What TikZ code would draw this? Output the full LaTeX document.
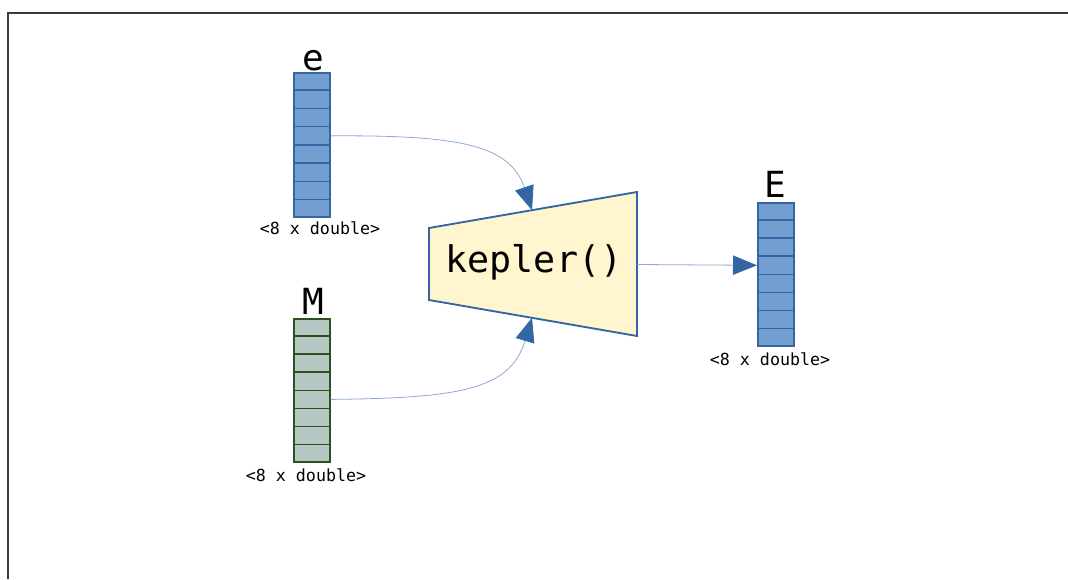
\documentclass[tikz,border=0pt]{standalone}
\usepackage{fontspec}
\setmonofont{DejaVu Sans Mono}
\usetikzlibrary{arrows.meta,calc}

\definecolor{cellblue}{HTML}{729FCF}
\definecolor{edgeblue}{HTML}{3465A4}
\definecolor{cellgreen}{HTML}{B4C9C3}
\definecolor{edgegreen}{HTML}{2E4F1C}
\definecolor{boxfill}{HTML}{FFF5CF}
\definecolor{wireblue}{HTML}{8EAAD2}
\definecolor{framegray}{HTML}{3A3A3A}

\tikzset{
  vecbox/.style={draw, rectangle, inner sep=0pt, anchor=north west,
    minimum width=27pt, line width=1.3pt},
  bluevec/.style={vecbox, fill=cellblue, draw=edgeblue},
  greenvec/.style={vecbox, fill=cellgreen, draw=edgegreen},
  cellline/.style={line width=1.2pt},
  vecname/.style={anchor=base, inner sep=0pt, font=\ttfamily\fontsize{27}{27}\selectfont},
  veccap/.style={anchor=base, inner sep=0pt, font=\ttfamily\fontsize{12.5}{13}\selectfont},
  wire/.style={draw=wireblue, line width=0.6pt,
    -{Triangle[length=18pt,width=14.5pt,color=edgeblue,fill=edgeblue]}},
}

\begin{document}
\begin{tikzpicture}[x=0.75pt,y=-0.75pt]
  \useasboundingbox (0,0) rectangle (1068,579);

  % outer frame (open to the right and bottom)
  \draw[framegray, line width=1.1pt] (8,579) -- (8,13) -- (1068,13);

  % input vector e
  \node[bluevec, minimum height=108pt] (e) at (293,72) {};
  \foreach \i in {1,...,7}
    \draw[edgeblue, cellline] ($(e.north west)!\i/8!(e.south west)$) -- ($(e.north east)!\i/8!(e.south east)$);
  \node[vecname] (elab) at (313,70) {e};
  \node[veccap] (ecap) at (320,234) {<8 x double>};

  % input vector M
  \node[greenvec, minimum height=107.25pt] (M) at (293,318) {};
  \foreach \i in {1,...,7}
    \draw[edgegreen, cellline] ($(M.north west)!\i/8!(M.south west)$) -- ($(M.north east)!\i/8!(M.south east)$);
  \node[vecname] (Mlab) at (313,314) {M};
  \node[veccap] (Mcap) at (306,481) {<8 x double>};

  % output vector E
  \node[bluevec, minimum height=107.25pt] (E) at (757,202) {};
  \foreach \i in {1,...,7}
    \draw[edgeblue, cellline] ($(E.north west)!\i/8!(E.south west)$) -- ($(E.north east)!\i/8!(E.south east)$);
  \node[vecname] (Elab) at (775,197) {E};
  \node[veccap] (Ecap) at (770,365) {<8 x double>};

  % function block
  \coordinate (k-tl) at (429,228);
  \coordinate (k-bl) at (429,300);
  \coordinate (k-tr) at (637,192);
  \coordinate (k-br) at (637,336);
  \draw[edgeblue, fill=boxfill, line width=1.4pt, line join=miter]
    (k-tl) -- (k-tr) -- (k-br) -- (k-bl) -- cycle;
  \node[inner sep=0pt, font=\ttfamily\fontsize{27.5}{28}\selectfont] (kep) at (534,262) {kepler()};
  \coordinate (k-in1) at ($(k-tl)!0.4952!(k-tr)$);
  \coordinate (k-in2) at ($(k-bl)!0.4952!(k-br)$);
  \coordinate (k-out) at (637,264.5);

  % connectors
  \coordinate (e-out) at ($(e.east)+(0,-9)$);
  \coordinate (M-out) at ($(M.north east)!0.5625!(M.south east)$);
  \coordinate (E-in) at ($(E.north west)!0.4375!(E.south west)$);
  \draw[wire] (e-out) .. controls (460,135) and (510,145) .. (k-in1);
  \draw[wire] (M-out) .. controls (460,398) and (510,390) .. (k-in2);
  \draw[wire] (k-out) -- (E-in);
\end{tikzpicture}
\end{document}
